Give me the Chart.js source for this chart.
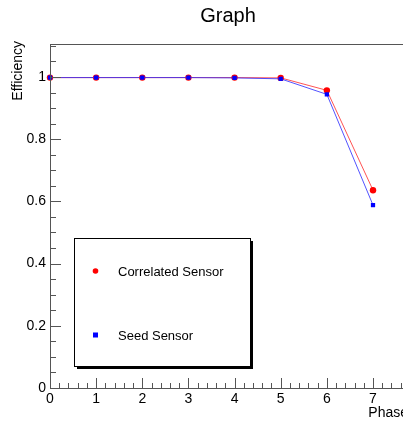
<!DOCTYPE html>
<html>
<head>
<meta charset="utf-8">
<script src="https://cdn.jsdelivr.net/npm/chart.js@4.4.1/dist/chart.umd.min.js"></script>
<style>
  html, body { margin: 0; padding: 0; background: #fff; }
  #wrap { width: 403px; height: 421px; position: relative; }
</style>
</head>
<body>
<div id="wrap"><canvas id="chartCanvas" width="403" height="421"></canvas></div>
<script>
// efficiency per phase
const phases = [0, 1, 2, 3, 4, 5, 6, 7];
const correlated = [0.998, 0.998, 0.998, 0.998, 0.998, 0.997, 0.957, 0.636];
const seed = [0.998, 0.998, 0.998, 0.998, 0.997, 0.994, 0.944, 0.588];
const xTicks = [0, 1, 2, 3, 4, 5, 6, 7];
const yTicks = [0, 0.2, 0.4, 0.6, 0.8, 1];
const legendLabels = ["Correlated Sensor", "Seed Sensor"];

const FONT = "'Liberation Sans', Arial, sans-serif";

// ROOT-like frame: ticks pointing into the pad, labels outside
const frame = {
  id: "frame",
  afterDraw(c) {
    const ctx = c.ctx;
    const a = c.chartArea;
    const xs = c.scales.x, ys = c.scales.y;
    ctx.save();

    // frame lines
    ctx.strokeStyle = "#555";
    ctx.lineWidth = 1;
    ctx.beginPath();
    ctx.moveTo(a.left + 0.5, a.top + 0.5);
    ctx.lineTo(a.right, a.top + 0.5);
    ctx.moveTo(a.left + 0.5, a.top);
    ctx.lineTo(a.left + 0.5, a.bottom + 0.5);
    ctx.lineTo(a.right, a.bottom + 0.5);
    ctx.stroke();

    // y ticks
    ctx.beginPath();
    for (let v = 0; v <= ys.max + 1e-9; v += 0.05) {
      const y = Math.round(ys.getPixelForValue(v)) + 0.5;
      const major = Math.abs(v / 0.2 - Math.round(v / 0.2)) < 1e-6;
      ctx.moveTo(a.left, y);
      ctx.lineTo(a.left + (major ? 11 : 6), y);
    }
    // x ticks
    for (let v = 0; v <= xs.max + 1e-9; v += 0.2) {
      const x = Math.round(xs.getPixelForValue(v)) + 0.5;
      const major = Math.abs(v - Math.round(v)) < 1e-6;
      ctx.moveTo(x, a.bottom);
      ctx.lineTo(x, a.bottom - (major ? 10 : 5));
    }
    ctx.stroke();

    // tick labels
    ctx.fillStyle = "#000";
    ctx.font = "14px " + FONT;
    ctx.textAlign = "right";
    ctx.textBaseline = "middle";
    yTicks.forEach(v => {
      ctx.fillText(String(v), a.left - 4, ys.getPixelForValue(v));
    });
    ctx.textAlign = "center";
    ctx.textBaseline = "top";
    xTicks.forEach(v => {
      ctx.fillText(String(v), xs.getPixelForValue(v), a.bottom + 4);
    });

    // axis titles
    ctx.font = "14px " + FONT;
    ctx.textAlign = "right";
    ctx.textBaseline = "alphabetic";
    ctx.fillText("Phase", 408, 417);
    ctx.save();
    ctx.translate(22, a.top - 3);
    ctx.rotate(-Math.PI / 2);
    ctx.fillText("Efficiency", 0, 0);
    ctx.restore();

    // title
    ctx.font = "20px " + FONT;
    ctx.textAlign = "center";
    ctx.fillText("Graph", 228, 22);

    // legend box with shadow
    const bx = 74, by = 238, bw = 176, bh = 128;
    ctx.fillStyle = "#000";
    ctx.fillRect(bx + 3, by + 3, bw, bh);
    ctx.fillStyle = "#fff";
    ctx.fillRect(bx, by, bw, bh);
    ctx.strokeStyle = "#000";
    ctx.strokeRect(bx + 0.5, by + 0.5, bw, bh);

    ctx.font = "13px " + FONT;
    ctx.textAlign = "left";
    ctx.textBaseline = "middle";
    const rows = [271, 335];
    legendLabels.forEach((lab, i) => {
      const d = c.data.datasets.find(s => s.label === lab);
      const y = rows[i];
      ctx.fillStyle = d.pointBackgroundColor;
      if (d.pointStyle === "rect") {
        ctx.fillRect(93, y - 2.5, 5, 5);
      } else {
        ctx.beginPath();
        ctx.arc(95.5, y, 2.8, 0, Math.PI * 2);
        ctx.fill();
      }
      ctx.fillStyle = "#000";
      ctx.fillText(lab, 118, y + 1);
    });

    ctx.restore();
  }
};

new Chart(document.getElementById("chartCanvas"), {
  type: "line",
  data: {
    labels: phases,
    datasets: [
      {
        label: legendLabels[1],
        data: phases.map((p, i) => ({ x: p, y: seed[i] })),
        borderColor: "rgba(40,40,255,0.8)",
        borderWidth: 1,
        pointStyle: "rect",
        pointRadius: 3,
        pointBackgroundColor: "#0000ff",
        pointBorderWidth: 0,
        clip: false
      },
      {
        label: legendLabels[0],
        data: phases.map((p, i) => ({ x: p, y: correlated[i] })),
        borderColor: "rgba(255,40,40,0.8)",
        borderWidth: 1,
        pointStyle: "circle",
        pointRadius: 3.2,
        pointBackgroundColor: "#ff0000",
        pointBorderWidth: 0,
        clip: false
      }
    ]
  },
  options: {
    responsive: false,
    animation: false,
    events: [],
    layout: { autoPadding: false, padding: { left: 50, top: 44, right: 0, bottom: 33 } },
    plugins: { legend: { display: false }, title: { display: false }, tooltip: { enabled: false } },
    scales: {
      x: { type: "linear", min: 0, max: 7.65, display: false },
      y: { type: "linear", min: 0, max: 1.106, display: false }
    }
  },
  plugins: [frame]
});
</script>
</body>
</html>
